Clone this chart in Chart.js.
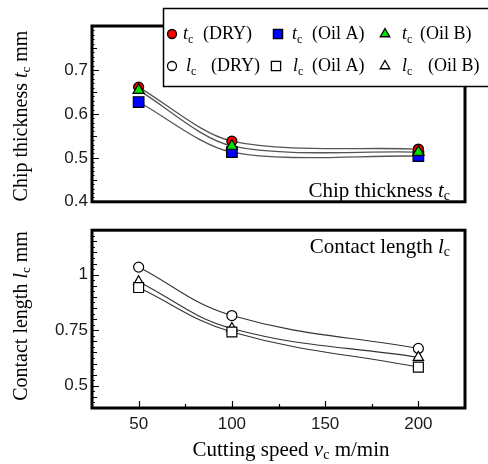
<!DOCTYPE html>
<html><head><meta charset="utf-8">
<script src="https://cdn.jsdelivr.net/npm/chart.js@4.4.0/dist/chart.umd.min.js"></script>
<style>
html,body{margin:0;padding:0;background:#fff;}
#wrap{position:relative;width:488px;height:464px;overflow:hidden;background:#fff;}
#c1{position:absolute;left:0;top:0;width:488px;height:216px;}
#c2{position:absolute;left:0;top:216px;width:488px;height:248px;}
</style></head><body>
<div id="wrap"><canvas id="c1" width="488" height="216"></canvas><canvas id="c2" width="488" height="248"></canvas></div>
<script>
// ---- data ----
const speeds = [50, 100, 200];            // cutting speed vc, m/min
const tcDry  = [0.661, 0.538, 0.520];     // chip thickness tc, mm
const tcOilA = [0.627, 0.513, 0.504];
const tcOilB = [0.654, 0.527, 0.513];
const lcDry  = [1.034, 0.816, 0.668];     // contact length lc, mm
const lcOilA = [0.942, 0.742, 0.584];
const lcOilB = [0.968, 0.758, 0.628];
const xTickValues  = [50, 100, 150, 200];
const tcTickValues = [0.4, 0.5, 0.6, 0.7];
const lcTickValues = [0.5, 0.75, 1];

// ---- styling helpers ----
const SERIF = "'Liberation Serif','Times New Roman',serif";
const SANS = "'Liberation Sans', Arial, sans-serif";
const fnt = (size, style) => (style ? style + ' ' : '') + size + 'px ' + SERIF;
const xy = (xs, ys) => xs.map((x, i) => ({x: x, y: ys[i]}));

function drawRich(ctx, parts, x, y, align) {
  let w = 0;
  parts.forEach(p => { ctx.font = p[1]; w += ctx.measureText(p[0]).width; });
  let cx = align === 'center' ? x - w / 2 : align === 'right' ? x - w : x;
  ctx.textAlign = 'left'; ctx.textBaseline = 'alphabetic'; ctx.fillStyle = '#000';
  parts.forEach(p => { ctx.font = p[1]; ctx.fillText(p[0], cx, y + (p[2] || 0)); cx += ctx.measureText(p[0]).width; });
}

function lineDs(ys, color, width, tension) {
  return {type: 'line', data: xy(speeds, ys), borderColor: color, borderWidth: width,
    pointRadius: 0, tension: tension, fill: false, order: 10};
}
function markDs(ys, style, radius, fill, order) {
  return {type: 'line', data: xy(speeds, ys), showLine: false, pointStyle: style,
    pointRadius: radius, pointBackgroundColor: fill, pointBorderColor: '#000',
    pointBorderWidth: 1.2, order: order};
}

function frameTicks(chart, yMinor, xMinor) {
  const ctx = chart.ctx, a = chart.chartArea, s = chart.scales;
  ctx.save();
  ctx.strokeStyle = '#000'; ctx.lineWidth = 1.2;
  ctx.beginPath();
  yMinor.forEach(t => { const y = Math.round(s.y.getPixelForValue(t[0])) + 0.5; ctx.moveTo(a.left, y); ctx.lineTo(a.left + t[1], y); });
  (xMinor || []).forEach(t => { const x = Math.round(s.x.getPixelForValue(t[0])) + 0.5; ctx.moveTo(x, a.bottom); ctx.lineTo(x, a.bottom - t[1]); });
  ctx.stroke();
  ctx.lineWidth = 3;
  ctx.strokeRect(a.left, a.top, a.right - a.left, a.bottom - a.top);
  ctx.restore();
}

// tick mark positions (decoration only)
const tcMarks = [];
for (let i = 41; i < 80; i++) tcMarks.push([i / 100, i % 10 === 0 ? 7 : i % 5 === 0 ? 5 : 2.5]);
const lcMarks = [];
for (let i = 17; i < 48; i++) lcMarks.push([i * 0.025, i % 10 === 0 ? 7 : i % 2 === 0 ? 5 : 3]);
const xMarks = [];
for (let v = 50; v <= 200; v += 25) xMarks.push([v, v % 50 === 0 ? 7 : 4]);

const legendItems = [
  // [pointStyle, radius, fill, markerX, letterX, parenX, letter, text, rowY]
  ['circle', 4.5, '#ff0000', 172, 183, 203, 't', '(DRY)', 34],
  ['rect', 6.5, '#0000ff', 278, 292, 312, 't', '(Oil A)', 34],
  ['triangle', 5.5, '#00e000', 385, 402, 420, 't', '(Oil B)', 34],
  ['circle', 4.5, '#ffffff', 172, 186, 211, 'l', '(DRY)', 66],
  ['rect', 6.5, '#ffffff', 276, 293, 312, 'l', '(Oil A)', 66],
  ['triangle', 5.5, '#ffffff', 385, 402, 428, 'l', '(Oil B)', 66]
];

const topPlugin = {
  id: 'topDeco',
  afterDraw(chart) {
    const ctx = chart.ctx;
    frameTicks(chart, tcMarks, null);
    ctx.save();
    ctx.translate(20, 116); ctx.rotate(-Math.PI / 2);
    drawRich(ctx, [['Chip thickness ', fnt(20)], ['t', fnt(20, 'italic')], ['c', fnt(13), 3], [' mm', fnt(20)]], 0, 7, 'center');
    ctx.restore();
    drawRich(ctx, [['Chip thickness ', fnt(21)], ['t', fnt(21, 'italic')], ['c', fnt(14), 3]], 450, 197, 'right');
    ctx.save();
    ctx.fillStyle = '#fff'; ctx.fillRect(163, 8, 330, 79);
    ctx.strokeStyle = '#000'; ctx.lineWidth = 1.5; ctx.strokeRect(163.5, 8.5, 330, 78);
    legendItems.forEach(it => {
      ctx.fillStyle = it[2]; ctx.strokeStyle = '#000'; ctx.lineWidth = 1.3;
      Chart.helpers.drawPoint(ctx, {pointStyle: it[0], radius: it[1], rotation: 0, borderWidth: 1.3}, it[3], it[8]);
      const by = it[8] + 5;
      drawRich(ctx, [[it[6], fnt(18, 'italic')], ['c', fnt(12), 4]], it[4], by, 'left');
      drawRich(ctx, [[it[7], fnt(18)]], it[5], by, 'left');
    });
    ctx.restore();
  }
};

const bottomPlugin = {
  id: 'botDeco',
  afterDraw(chart) {
    const ctx = chart.ctx;
    frameTicks(chart, lcMarks, xMarks);
    ctx.save();
    ctx.translate(20, 100); ctx.rotate(-Math.PI / 2);
    drawRich(ctx, [['Contact length ', fnt(20)], ['l', fnt(20, 'italic')], ['c', fnt(13), 3], [' mm', fnt(20)]], 0, 7, 'center');
    ctx.restore();
    drawRich(ctx, [['Contact length ', fnt(21)], ['l', fnt(21, 'italic')], ['c', fnt(14), 3]], 450, 37, 'right');
    drawRich(ctx, [['Cutting speed ', fnt(21)], ['v', fnt(21, 'italic')], ['c', fnt(14), 3], [' m/min', fnt(21)]], 291, 240, 'center');
  }
};

const commonOpts = {
  responsive: false, animation: false, events: [],
  plugins: {legend: {display: false}, tooltip: {enabled: false}}
};

new Chart(document.getElementById('c1'), {
  type: 'line',
  data: {datasets: [
    lineDs(tcDry, '#555', 1.3, 0.3), lineDs(tcOilA, '#555', 1.3, 0.3), lineDs(tcOilB, '#555', 1.3, 0.3),
    markDs(tcOilB, 'triangle', 6.5, '#00e000', 0),
    markDs(tcDry, 'circle', 5, '#ff0000', 1),
    markDs(tcOilA, 'rect', 7.5, '#0000ff', 2)
  ]},
  options: Object.assign({}, commonOpts, {
    layout: {padding: {left: 0, right: 23, top: 26, bottom: 10}},
    scales: {
      x: {type: 'linear', min: 25, max: 225, display: false},
      y: {type: 'linear', min: 0.4, max: 0.8,
        afterBuildTicks: s => { s.ticks = tcTickValues.map(v => ({value: v})); },
        afterFit: s => { s.width = 92; },
        grid: {display: false, drawTicks: false}, border: {display: false},
        ticks: {padding: 4, color: '#1a1a1a', font: {family: SANS, size: 17}, callback: v => String(v)}}
    }
  }),
  plugins: [topPlugin]
});

new Chart(document.getElementById('c2'), {
  type: 'line',
  data: {datasets: [
    lineDs(lcDry, '#333', 1.1, 0.4), lineDs(lcOilA, '#333', 1.1, 0.4), lineDs(lcOilB, '#333', 1.1, 0.4),
    markDs(lcOilA, 'rect', 7, '#ffffff', 0),
    markDs(lcOilB, 'triangle', 6, '#ffffff', 1),
    markDs(lcDry, 'circle', 5, '#ffffff', 2)
  ]},
  options: Object.assign({}, commonOpts, {
    layout: {padding: {left: 0, right: 23, top: 12, bottom: 0}},
    scales: {
      x: {type: 'linear', min: 25, max: 225,
        afterBuildTicks: s => { s.ticks = xTickValues.map(v => ({value: v})); },
        afterFit: s => { s.height = 56; },
        grid: {display: false, drawTicks: false}, border: {display: false},
        ticks: {padding: 6, maxRotation: 0, color: '#1a1a1a', font: {family: SANS, size: 17}, callback: v => String(v)}},
      y: {type: 'linear', min: 0.4, max: 1.2,
        afterBuildTicks: s => { s.ticks = lcTickValues.map(v => ({value: v})); },
        afterFit: s => { s.width = 92; },
        grid: {display: false, drawTicks: false}, border: {display: false},
        ticks: {padding: 4, color: '#1a1a1a', font: {family: SANS, size: 17}, callback: v => String(v)}}
    }
  }),
  plugins: [bottomPlugin]
});
</script>
</body></html>
